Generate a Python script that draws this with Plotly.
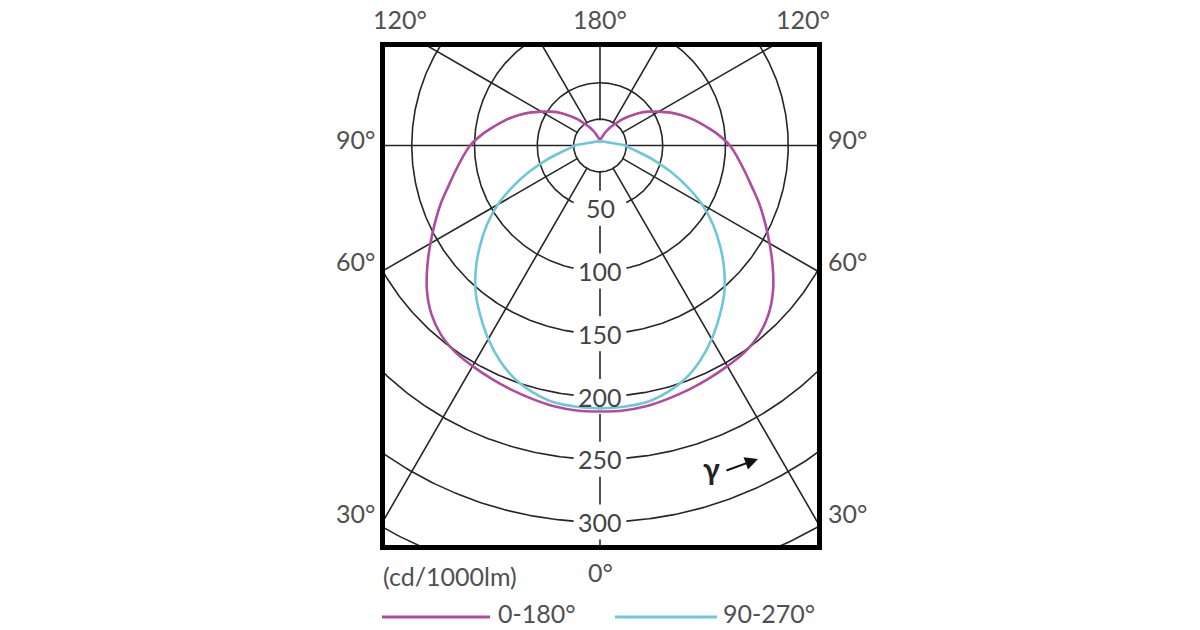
import numpy as np
import plotly.graph_objects as go

# ---------------- data ----------------
gamma_deg = [0, 5, 10, 15, 20, 25, 30, 35, 40, 45, 50, 55, 60, 65, 70, 75, 80, 85, 90,
             95, 100, 105, 110, 115, 120, 125, 130, 135, 140, 145, 150, 155, 160, 165, 170, 175, 180]
plane_0_180 = [212, 212, 211, 209, 207, 205, 203, 201, 197, 190, 180, 168, 156, 145, 135, 125, 117, 110, 103.5,
               95, 86, 78, 70, 62, 54, 47, 40, 33, 27, 21, 17, 13, 10, 7.5, 6, 5, 4.5]
plane_90_270 = [209.5, 209, 208, 204, 198, 189, 178, 166, 154, 140, 125, 110, 94, 76, 59, 44, 32, 24, 20,
                14, 10.5, 8.5, 7, 6.2, 5.6, 5.2, 4.8, 4.5, 4.2, 4.0, 3.8, 3.6, 3.4, 3.2, 3.1, 3.0, 3.0]
ring_values = [50, 100, 150, 200, 250, 300, 350]
ring_labels = ["50", "100", "150", "200", "250", "300"]
radial_angles = [30, 60, 90, 120, 150, 180, 210, 240, 270, 300, 330]
inner_radius = 21
series_names = ["0-180°", "90-270°"]
series_colors = ["#b04ca0", "#6ec7d9"]
unit_label = "(cd/1000lm)"

GRID = "#262626"
TXT = "#505050"
FONT = "Lato"

# plot area in window pixels (body margin removed below)
L, R, T, B = 385, 817, 47, 545
scale = 1.255            # px per cd/1000lm
cx, cy = 600, 145.5      # polar centre in pixels
x_range = [(L - cx) / scale, (R - cx) / scale]
y_range = [-(B - cy) / scale, (cy - T) / scale]


def px_x(px):
    return (px - L) / (R - L)


def px_y(py):
    return (B - py) / (B - T)


def to_xy(theta_deg, r, side=1):
    t = np.radians(np.asarray(theta_deg, dtype=float))
    r = np.asarray(r, dtype=float)
    return side * r * np.sin(t), -r * np.cos(t)


fig = go.Figure()

# ---- rings (with a gap where the value label sits) ----
gap_half = 21
for rv in ring_values:
    g = np.degrees(np.arcsin(min(gap_half / rv, 1.0))) if rv <= 300 else 0.0
    th = np.linspace(g, 360 - g, 721)
    x, y = to_xy(th, np.full_like(th, rv))
    fig.add_trace(go.Scatter(x=x, y=y, mode="lines", line=dict(color=GRID, width=1.6),
                             hoverinfo="skip", showlegend=False))

# inner circle
th = np.linspace(0, 360, 361)
x, y = to_xy(th, np.full_like(th, inner_radius))
fig.add_trace(go.Scatter(x=x, y=y, mode="lines", line=dict(color=GRID, width=1.6),
                         hoverinfo="skip", showlegend=False))

# radial lines
for a in radial_angles:
    x, y = to_xy([a, a], [inner_radius, 500])
    fig.add_trace(go.Scatter(x=x, y=y, mode="lines", line=dict(color=GRID, width=1.6),
                             hoverinfo="skip", showlegend=False))

# 0° axis: interrupted by the value labels
bounds = [inner_radius] + ring_values[:len(ring_labels)] + [500]
lab_gap = 14
for i in range(len(bounds) - 1):
    r0 = bounds[i] + (lab_gap if i > 0 else 0)
    r1 = bounds[i + 1] - (lab_gap if i + 1 < len(bounds) - 1 else 0)
    x, y = to_xy([0, 0], [r0, r1])
    fig.add_trace(go.Scatter(x=x, y=y, mode="lines", line=dict(color=GRID, width=1.6),
                             hoverinfo="skip", showlegend=False))

# ---- intensity curves (symmetric planes, each half drawn separately) ----
for vals, name, col in zip([plane_0_180, plane_90_270], series_names, series_colors):
    for side in (1, -1):
        x, y = to_xy(gamma_deg, vals, side)
        fig.add_trace(go.Scatter(x=x, y=y, mode="lines",
                                 line=dict(color=col, width=2.6, shape="spline", smoothing=1.0),
                                 name=name, hoverinfo="skip", showlegend=False))

ann = []
# ring value labels
for rv, lab in zip(ring_values, ring_labels):
    ann.append(dict(x=0, y=-rv, xref="x", yref="y", text=lab, showarrow=False,
                    font=dict(family=FONT, size=25, color="#444444"),
                    xanchor="center", yanchor="middle"))

# angle labels around the frame
angle_labels = [("120°", 400, 19), ("180°", 600, 19), ("120°", 803, 19),
                ("90°", 355, 139), ("60°", 355, 261), ("30°", 355, 513),
                ("90°", 847, 139), ("60°", 847, 261), ("30°", 847, 513),
                ("0°", 600, 572)]
for txt, px, py in angle_labels:
    ann.append(dict(x=px_x(px), y=px_y(py), xref="paper", yref="paper", text=txt,
                    showarrow=False, font=dict(family=FONT, size=25, color=TXT),
                    xanchor="center", yanchor="middle"))

ann.append(dict(x=px_x(381), y=px_y(576), xref="paper", yref="paper", text=unit_label,
                showarrow=False, font=dict(family=FONT, size=25, color=TXT),
                xanchor="left", yanchor="middle"))

# legend texts
ann.append(dict(x=px_x(496), y=px_y(613), xref="paper", yref="paper", text=series_names[0],
                showarrow=False, font=dict(family=FONT, size=25, color=TXT),
                xanchor="left", yanchor="middle"))
ann.append(dict(x=px_x(721), y=px_y(613), xref="paper", yref="paper", text=series_names[1],
                showarrow=False, font=dict(family=FONT, size=25, color=TXT),
                xanchor="left", yanchor="middle"))

# gamma arrow
ann.append(dict(x=(711 - cx) / scale, y=-(468 - cy) / scale, xref="x", yref="y", text="<b>γ</b>",
                showarrow=False, font=dict(family=FONT, size=30, color="#222222"),
                xanchor="center", yanchor="middle"))
ann.append(dict(x=(758 - cx) / scale, y=-(459 - cy) / scale, xref="x", yref="y", text="",
                showarrow=True, ax=-33, ay=12, arrowhead=2, arrowsize=1.3, arrowwidth=2,
                arrowcolor="#111111", standoff=0))

shapes = [
    dict(type="line", xref="paper", yref="paper", x0=px_x(382), x1=px_x(490),
         y0=px_y(617), y1=px_y(617), line=dict(color=series_colors[0], width=3)),
    dict(type="line", xref="paper", yref="paper", x0=px_x(615), x1=px_x(717),
         y0=px_y(617), y1=px_y(617), line=dict(color=series_colors[1], width=3)),
]

axis_common = dict(showgrid=False, zeroline=False, showticklabels=False, ticks="",
                   showline=True, mirror=True, linewidth=5, linecolor="black", fixedrange=True)

fig.update_layout(
    width=1200, height=630,
    margin=dict(l=L, r=1200 - R, t=T, b=630 - B),
    paper_bgcolor="white", plot_bgcolor="white",
    xaxis=dict(range=x_range, **axis_common),
    yaxis=dict(range=y_range, **axis_common),
    annotations=ann, shapes=shapes, showlegend=False,
)

fig.write_html("out.html", config={"displayModeBar": False},
               post_script="document.body.style.margin='0';document.body.style.overflow='hidden';")
